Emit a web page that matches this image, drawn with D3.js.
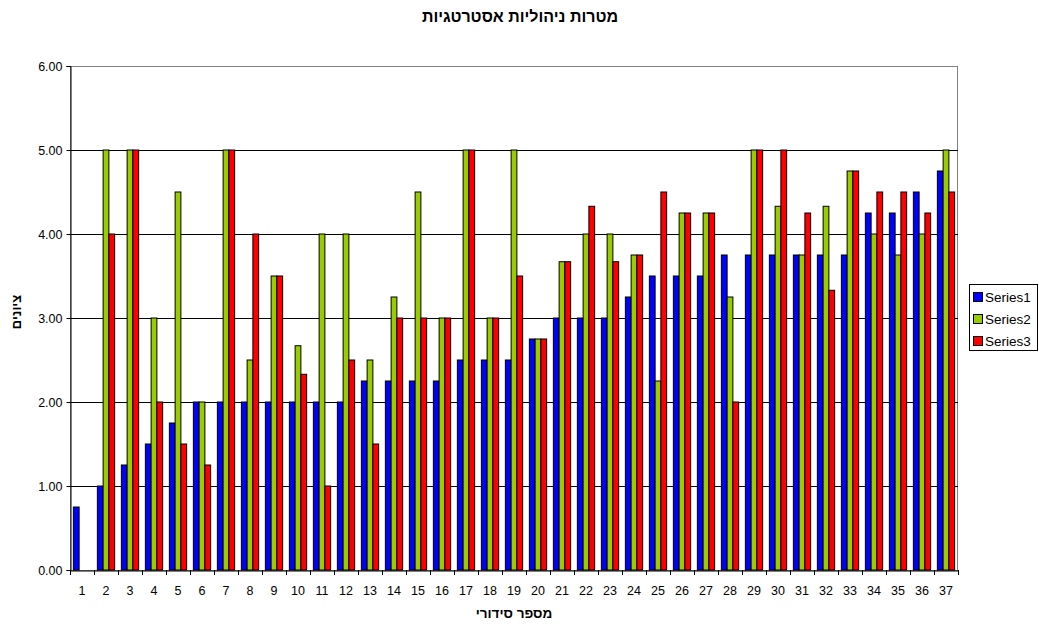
<!DOCTYPE html>
<html><head><meta charset="utf-8">
<script src="https://cdn.jsdelivr.net/npm/d3@7"></script>
<style>body{margin:0;background:#fff;}svg{font-family:"Liberation Sans",Arial,sans-serif;}</style>
</head><body>
<svg id="c" width="1039" height="626"></svg>
<script>
const categories = d3.range(1, 38).map(String);
const seriesNames = ["Series1", "Series2", "Series3"];
const series1 = [0.75,1,1.25,1.5,1.75,2,2,2,2,2,2,2,2.25,2.25,2.25,2.25,2.5,2.5,2.5,2.75,3,3,3,3.25,3.5,3.5,3.5,3.75,3.75,3.75,3.75,3.75,3.75,4.25,4.25,4.5,4.75];
const series2 = [0,5,5,3,4.5,2,5,2.5,3.5,2.67,4,4,2.5,3.25,4.5,3,5,3,5,2.75,3.67,4,4,3.75,2.25,4.25,4.25,3.25,5,4.33,3.75,4.33,4.75,4,3.75,4,5];
const series3 = [0,4,5,2,1.5,1.25,5,4,3.5,2.33,1,2.5,1.5,3,3,3,5,3,3.5,2.75,3.67,4.33,3.67,3.75,4.5,4.25,4.25,2,5,5,4.25,3.33,4.75,4.5,4.5,4.25,4.5];
const yTicks = [0,1,2,3,4,5,6];
const colors = ["#0000FF", "#99CC00", "#FF0000"];
const title = "מטרות ניהוליות אסטרטגיות";
const yLabel = "ציונים";
const xLabel = "מספר סידורי";

const svg = d3.select("#c");
const L = 70, R = 958, T = 66, B = 570;
const x = d3.scaleBand().domain(categories).range([L, R]).paddingInner(0).paddingOuter(0);
const y = d3.scaleLinear().domain([0, 6]).range([B, T]);
const groupW = x.bandwidth() * 0.72;
const xs = d3.scaleBand().domain(seriesNames).range([0, groupW]);
const all = [series1, series2, series3];

// plot border
svg.append("rect").attr("x", L + 0.5).attr("y", T + 0.5).attr("width", R - L - 1).attr("height", B - T)
  .attr("fill", "none").attr("stroke", "#808080");
// gridlines
svg.append("g").selectAll("line").data(yTicks.filter(d => d > 0 && d < 6)).join("line")
  .attr("x1", L).attr("x2", R).attr("y1", d => Math.round(y(d)) + 0.5).attr("y2", d => Math.round(y(d)) + 0.5)
  .attr("stroke", "#000").attr("stroke-width", 1);

// bars
const g = svg.append("g");
all.forEach((vals, si) => {
  g.selectAll(null).data(vals.map((v, i) => ({ v, c: categories[i] })).filter(d => d.v > 0)).join("rect")
    .attr("x", d => x(d.c) + (x.bandwidth() - groupW) / 2 + xs(seriesNames[si]))
    .attr("y", d => y(d.v))
    .attr("width", xs.bandwidth())
    .attr("height", d => B - y(d.v))
    .attr("fill", colors[si]).attr("stroke", "#000").attr("stroke-width", 1);
});

// y axis
const yAxis = d3.axisLeft(y).tickValues(yTicks).tickFormat(d3.format(".2f")).tickSize(4).tickPadding(4);
const ya = svg.append("g").attr("transform", `translate(${L + 0.5},0)`).call(yAxis);
ya.select(".domain").attr("stroke", "#000");
ya.selectAll("text").attr("font-size", 12.5).attr("fill", "#000").attr("font-family", "Liberation Sans, Arial, sans-serif");

// x axis
const xAxis = d3.axisBottom(x).tickSize(0).tickPadding(16);
const xa = svg.append("g").attr("transform", `translate(0,${B + 0.5})`).call(xAxis);
xa.select(".domain").attr("stroke", "#000");
xa.selectAll("text").attr("font-size", 12.5).attr("fill", "#000").attr("font-family", "Liberation Sans, Arial, sans-serif");
// tick marks between categories
svg.append("g").selectAll("line").data(categories.concat(["end"])).join("line")
  .attr("x1", (d, i) => Math.round(L + i * x.step()) + 0.5).attr("x2", (d, i) => Math.round(L + i * x.step()) + 0.5)
  .attr("y1", B).attr("y2", B + 5).attr("stroke", "#000");

// title and labels
svg.append("text").attr("x", 520).attr("y", 22).attr("text-anchor", "middle")
  .attr("font-size", 16).attr("font-weight", "bold").attr("direction", "rtl").attr("unicode-bidi", "embed").text(title);
svg.append("text").attr("transform", "translate(21,312) rotate(-90)").attr("text-anchor", "middle")
  .attr("font-size", 13).attr("font-weight", "bold").attr("direction", "rtl").text(yLabel);
svg.append("text").attr("x", 514).attr("y", 618).attr("text-anchor", "middle")
  .attr("font-size", 13.5).attr("font-weight", "bold").attr("direction", "rtl").text(xLabel);

// legend
const lg = svg.append("g").attr("transform", "translate(969,284)");
lg.append("rect").attr("x", 0.5).attr("y", 0.5).attr("width", 68).attr("height", 66).attr("fill", "#fff").attr("stroke", "#000");
seriesNames.forEach((s, i) => {
  lg.append("rect").attr("x", 4.5).attr("y", 8.5 + i * 22).attr("width", 9).attr("height", 9)
    .attr("fill", colors[i]).attr("stroke", "#000");
  lg.append("text").attr("x", 16).attr("y", 18 + i * 22).attr("font-size", 13.5).text(s);
});
</script>
</body></html>
